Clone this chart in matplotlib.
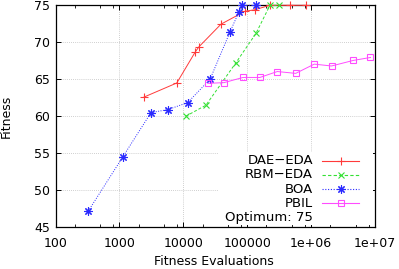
import matplotlib
matplotlib.use("Agg")
import matplotlib.pyplot as plt
from matplotlib.ticker import LogLocator, FixedLocator, NullFormatter, FixedFormatter
from matplotlib.patches import Rectangle

# ---- data ----
dae_x = [2430, 7900, 15400, 17600, 38900, 92500, 132000, 225000, 470000, 830000]
dae_y = [62.6, 64.5, 68.7, 69.4, 72.45, 74.2, 74.4, 75.0, 75.0, 75.0]

rbm_x = [10900, 22600, 66800, 137000, 227000, 315000]
rbm_y = [60.0, 61.5, 67.25, 71.2, 75.0, 75.0]

boa_x = [326, 1127, 3120, 5700, 11700, 26200, 53800, 73600, 83000, 138000]
boa_y = [47.2, 54.5, 60.5, 60.9, 61.85, 65.0, 71.4, 74.05, 75.0, 75.0]

pbil_x = [24100, 43400, 85900, 158000, 296000, 574000, 1120000, 2090000, 4570000, 8500000]
pbil_y = [64.45, 64.55, 65.25, 65.25, 66.05, 65.8, 67.05, 66.8, 67.55, 67.95]

x_ticks = [100, 1000, 10000, 100000, 1e6, 1e7]
x_tick_labels = ["100", "1000", "10000", "100000", "1e+06", "1e+07"]
y_ticks = [45, 50, 55, 60, 65, 70, 75]
legend_labels = ["DAE\u2212EDA", "RBM\u2212EDA", "BOA", "PBIL", "Optimum: 75"]

plt.rcParams['font.family'] = ['DejaVu Sans']
fig = plt.figure(figsize=(3.99, 2.69), dpi=100)
W, H = 399, 269
ax = fig.add_axes([55.5 / W, 1 - 227.3 / H, (375 - 55.5) / W, (227.3 - 5.3) / H])

star = (8, 2, 0)
styles = [
    dict(color='#ff3a3a', ls='-', marker='+', ms=6, mew=0.8),
    dict(color='#33e033', ls=(0, (3, 2)), marker='x', ms=5, mew=0.8),
    dict(color='#2a2aff', ls=(0, (1, 1.5)), marker=star, ms=6, mew=0.8),
    dict(color='#ff4cff', ls='-', marker='s', ms=5, mew=0.8, mfc='none'),
]
series = [(dae_x, dae_y), (rbm_x, rbm_y), (boa_x, boa_y), (pbil_x, pbil_y)]
for (xs, ys), st in zip(series, styles):
    ax.plot(xs, ys, lw=0.7, clip_on=False, zorder=3, **st)

ax.set_xscale('log')
ax.set_xlim(100, 1e7)
ax.set_ylim(45, 75)
ax.xaxis.set_major_locator(FixedLocator(x_ticks))
ax.xaxis.set_major_formatter(FixedFormatter(x_tick_labels))
ax.xaxis.set_minor_locator(LogLocator(base=10, subs=(2, 5, 8)))
ax.xaxis.set_minor_formatter(NullFormatter())
ax.set_yticks(y_ticks)
ax.tick_params(which='both', direction='in', top=True, right=True, labelsize=9, colors='black')
ax.tick_params(which='major', length=3.5, width=0.7)
ax.tick_params(axis='x', which='major', pad=7)
ax.tick_params(axis='y', which='major', pad=4)
ax.tick_params(which='minor', length=2, width=0.6)
ax.tick_params(axis='y', which='minor', left=False, right=False)
ax.grid(True, which='major', color='#c0c0c0', ls=(0, (1, 1.5)), lw=0.6)
for sp in ax.spines.values():
    sp.set_linewidth(0.9)
    sp.set_color('black')

ax_w = 375 - 55.5
ax_h = 227.3 - 5.3
def fx(px):
    return (px - 55.5) / ax_w
def fy(py):
    return (227.3 - py) / ax_h

ax.set_xlabel("Fitness Evaluations", fontsize=9)
ax.xaxis.set_label_coords(fx(214), fy(255))
ax.set_ylabel("Fitness", fontsize=9)
ax.yaxis.set_label_coords(fx(13), fy(116))

# ---- gnuplot-style key (right-justified text, sample to the right) ----
ax.add_patch(Rectangle((fx(219), fy(225)), fx(373) - fx(219), fy(152) - fy(225),
                       transform=ax.transAxes, facecolor='white', edgecolor='none', zorder=2.5))
rows = [160.7, 174.9, 189.1, 203.3, 217.5]
for i, lab in enumerate(legend_labels):
    yy = fy(rows[i])
    ax.text(fx(313), yy, lab, transform=ax.transAxes, ha='right', va='center',
            fontsize=9.5, zorder=4)
    if i < 4:
        st = styles[i]
        ax.plot([fx(322), fx(359)], [yy, yy], transform=ax.transAxes, lw=0.8,
                clip_on=False, zorder=4, color=st['color'], ls=st['ls'])
        ax.plot([fx(340.5)], [yy], transform=ax.transAxes, ls='none', clip_on=False, zorder=4,
                **{k: v for k, v in st.items() if k != 'ls'})

fig.savefig("out.png", dpi=100)
